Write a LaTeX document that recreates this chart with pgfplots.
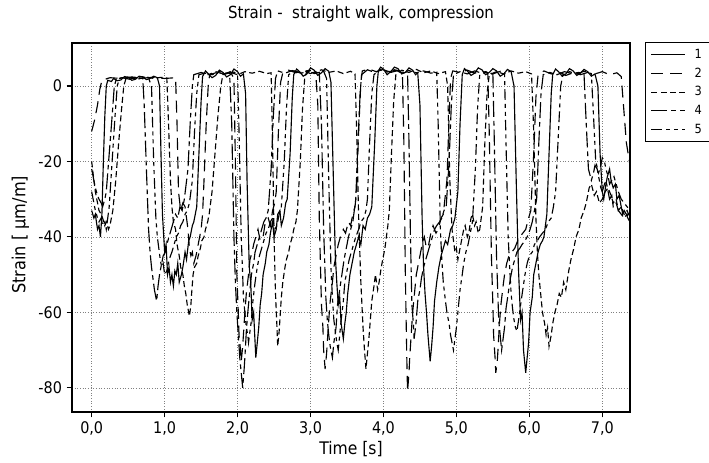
\documentclass[border=0pt]{standalone}
\usepackage{fontspec}
\setmainfont{DejaVu Sans Condensed}
\usepackage{pgfplots}
\pgfplotsset{compat=1.18}
\usetikzlibrary{calc}
\begin{document}
\begin{tikzpicture}
\begin{axis}[
  name=ax,
  at={(0,0)}, anchor=south west,
  scale only axis, width=418.5pt, height=276.75pt,
  xmin=-0.27, xmax=7.38, ymin=-86.4, ymax=11.4,
  xtick={0,1,2,3,4,5,6,7}, ytick={-80,-60,-40,-20,0},
  xtick pos=left, ytick pos=left, tick align=outside,
  major tick length=4pt,
  every tick/.style={black, line width=0.8pt},
  axis line style={line width=1.1pt},
  grid=major,
  major grid style={gray, line width=0.5pt, dash pattern=on 0.6pt off 1.4pt},
  /pgf/number format/assume math mode=true,
  xticklabel style={/pgf/number format/.cd, fixed, precision=1, fixed zerofill, use comma},
  yticklabel style={/pgf/number format/.cd, fixed, precision=0},
  tick label style={font=\fontsize{12}{14}\selectfont},
  title={Strain -\ \ straight walk, compression},
  title style={at={(axis description cs:0.518,1.046)}, anchor=base, font=\fontsize{12.5}{14}\selectfont},
  xlabel={Time [s]},
  xlabel style={at={(axis description cs:0.5,-0.1156)}, anchor=base, font=\fontsize{13}{15}\selectfont},
  ylabel={Strain [ µm/m]},
  ylabel style={at={(axis description cs:-0.0836,0.48)}, anchor=base, font=\fontsize{13.5}{15}\selectfont},
  legend style={at={(axis description cs:1.027,1.0027)}, anchor=north west,
    draw=black, line width=0.8pt, font=\fontsize{9.5}{11}\selectfont,
    inner xsep=4pt, inner ysep=3pt, row sep=1.5pt,
    /tikz/every odd column/.append style={column sep=5pt}},
  legend cell align=left,
  legend image code/.code={\draw[#1, line width=0.8pt] (0pt,0pt) -- (25pt,0pt);},
  every axis plot/.append style={black, line width=0.85pt},
]
% Series 1 (solid)
\addplot[solid] coordinates {
(0.00,-33) (0.03,-35) (0.05,-34) (0.08,-38) (0.10,-37) (0.12,-40) (0.14,-34) (0.16,-20) (0.18,-8) (0.20,0) (0.22,1.5) (0.27,1.2) (0.30,2.0) (0.35,1.4) (0.40,1.6) (0.45,2.5) (0.50,2.3) (0.55,1.5) (0.60,1.8) (0.65,2.6) (0.70,2.4) (0.75,1.7) (0.80,2.0) (0.85,2.6) (0.90,2.2) (0.93,0) (0.95,-18) (0.97,-34) (1.00,-44) (1.02,-42) (1.04,-50) (1.06,-48) (1.08,-52) (1.10,-50) (1.12,-53) (1.14,-49) (1.16,-50) (1.18,-47) (1.20,-52) (1.23,-50) (1.25,-48) (1.28,-44) (1.30,-46) (1.33,-41) (1.35,-40) (1.38,-37) (1.40,-36) (1.42,-34) (1.44,-32) (1.47,-18) (1.50,-4) (1.52,2.5) (1.56,4) (1.60,3.2) (1.65,2.2) (1.70,2.8) (1.75,4.2) (1.80,3.6) (1.85,2.4) (1.90,3.0) (1.95,4.5) (2.00,3.8) (2.04,2.6) (2.08,3.2) (2.11,-2) (2.13,-25) (2.16,-48) (2.18,-52) (2.20,-62) (2.22,-60) (2.25,-72) (2.27,-68) (2.29,-64) (2.31,-58) (2.33,-55) (2.35,-50) (2.38,-47) (2.40,-44) (2.43,-42) (2.45,-39) (2.48,-36) (2.50,-40) (2.53,-38) (2.55,-34) (2.58,-33) (2.60,-37) (2.63,-35) (2.66,-31) (2.68,-30) (2.72,-18) (2.75,-3) (2.77,3) (2.81,4.5) (2.85,3.8) (2.90,2.6) (2.95,3.2) (3.00,4.8) (3.05,4.2) (3.10,2.8) (3.15,3.5) (3.20,4.6) (3.25,3.9) (3.28,1) (3.31,-22) (3.34,-45) (3.36,-52) (3.38,-58) (3.40,-56) (3.42,-63) (3.45,-67) (3.47,-63) (3.49,-60) (3.51,-55) (3.54,-50) (3.57,-47) (3.60,-44) (3.63,-42) (3.66,-40) (3.69,-42) (3.72,-37) (3.75,-38) (3.78,-35) (3.81,-34) (3.84,-32) (3.88,-15) (3.91,0) (3.93,4) (3.96,5) (4.00,4.5) (4.05,3.0) (4.10,3.8) (4.15,5.0) (4.20,4.6) (4.25,3.2) (4.30,3.6) (4.35,4.8) (4.40,4.2) (4.44,3.0) (4.47,3.5) (4.50,-5) (4.53,-35) (4.55,-48) (4.57,-55) (4.59,-60) (4.61,-66) (4.64,-73) (4.66,-69) (4.68,-64) (4.70,-57) (4.73,-52) (4.76,-48) (4.79,-45) (4.82,-43) (4.85,-41) (4.88,-42) (4.92,-38) (4.95,-37) (4.98,-35) (5.02,-28) (5.05,-10) (5.08,3) (5.11,4.6) (5.15,4) (5.20,2.8) (5.25,3.4) (5.30,4.8) (5.35,4.3) (5.40,3.0) (5.45,3.6) (5.50,4.6) (5.55,4.0) (5.60,2.6) (5.65,3.2) (5.70,4.4) (5.75,3.8) (5.79,0) (5.82,-25) (5.85,-48) (5.88,-62) (5.90,-60) (5.92,-70) (5.95,-76) (5.97,-72) (5.99,-68) (6.01,-60) (6.04,-56) (6.06,-50) (6.09,-47) (6.12,-44) (6.15,-42) (6.18,-41) (6.20,-40) (6.22,-37) (6.24,-34) (6.27,-18) (6.30,-2) (6.32,3) (6.36,4.5) (6.40,3.8) (6.45,2.6) (6.50,3.2) (6.55,4.6) (6.60,4.0) (6.65,2.8) (6.70,3.4) (6.75,4.4) (6.80,3.8) (6.85,2.6) (6.90,3.2) (6.94,0) (6.97,-18) (7.00,-28) (7.02,-30) (7.05,-26) (7.07,-24) (7.10,-22) (7.12,-25) (7.15,-27) (7.18,-26) (7.20,-30) (7.23,-29) (7.25,-31) (7.28,-34) (7.30,-33) (7.33,-34) (7.35,-35) (7.38,-36)
};
\addlegendentry{1}
% Series 2 (long dash)
\addplot[dash pattern=on 9pt off 5pt] coordinates {
(0.00,-12) (0.04,-9) (0.08,-5) (0.11,-1) (0.14,1.5) (0.25,2.2) (0.40,2.0) (0.55,2.4) (0.70,2.1) (0.85,2.3) (1.00,2.0) (1.15,2.2) (1.17,-10) (1.19,-28) (1.22,-33) (1.25,-31) (1.28,-32) (1.30,-35) (1.32,-38) (1.34,-43) (1.36,-45) (1.38,-44) (1.40,-47) (1.43,-45) (1.45,-43) (1.48,-40) (1.50,-38) (1.52,-34) (1.54,-25) (1.57,-10) (1.60,1) (1.62,3) (1.70,3.5) (1.80,3.0) (1.90,3.8) (1.95,2) (1.97,-20) (1.99,-50) (2.01,-60) (2.02,-66) (2.04,-70) (2.05,-73) (2.07,-69) (2.08,-66) (2.10,-60) (2.12,-55) (2.15,-50) (2.17,-46) (2.20,-44) (2.22,-42) (2.25,-40) (2.28,-38) (2.31,-41) (2.35,-40) (2.38,-36) (2.42,-35) (2.45,-37) (2.48,-33) (2.51,-31) (2.53,-28) (2.56,-12) (2.59,1) (2.62,3.5) (2.70,4.2) (2.80,3.5) (2.90,4.0) (3.00,3.3) (3.07,3.8) (3.10,-5) (3.12,-35) (3.15,-58) (3.17,-64) (3.18,-70) (3.20,-75) (3.22,-71) (3.23,-68) (3.25,-62) (3.27,-57) (3.30,-52) (3.32,-48) (3.35,-45) (3.38,-42) (3.41,-40) (3.45,-38) (3.48,-39) (3.52,-36) (3.55,-37) (3.58,-34) (3.61,-32) (3.63,-28) (3.66,-12) (3.69,1) (3.71,4) (3.80,4.5) (3.90,3.8) (4.00,4.4) (4.10,3.6) (4.20,4.1) (4.26,3.5) (4.28,-15) (4.30,-50) (4.32,-72) (4.33,-81) (4.35,-76) (4.36,-72) (4.38,-66) (4.40,-60) (4.43,-54) (4.45,-50) (4.48,-47) (4.50,-45) (4.53,-42) (4.56,-40) (4.59,-43) (4.62,-42) (4.65,-39) (4.68,-37) (4.72,-39) (4.75,-38) (4.79,-35) (4.82,-34) (4.87,-25) (4.90,-8) (4.92,2) (4.95,4) (5.05,3.6) (5.15,4.2) (5.25,3.4) (5.35,3.9) (5.43,3.5) (5.45,-12) (5.48,-45) (5.50,-58) (5.51,-66) (5.53,-72) (5.54,-76) (5.56,-73) (5.57,-70) (5.59,-63) (5.61,-58) (5.64,-53) (5.66,-50) (5.69,-47) (5.72,-45) (5.76,-44) (5.80,-43) (5.84,-41) (5.87,-40) (5.91,-39) (5.95,-38) (5.99,-35) (6.02,-33) (6.06,-18) (6.09,-3) (6.12,3) (6.20,4.0) (6.30,3.2) (6.40,3.8) (6.50,2.8) (6.60,3.5) (6.70,3.0) (6.80,3.6) (6.90,3.2) (7.00,3.8) (7.10,3.0) (7.20,3.5) (7.26,2.5) (7.29,-5) (7.33,-15) (7.38,-21)
};
\addlegendentry{2}
% Series 3 (short dash)
\addplot[dash pattern=on 4.5pt off 2.5pt] coordinates {
(0.00,-20) (0.03,-25) (0.05,-28) (0.08,-31) (0.10,-33) (0.13,-34) (0.15,-35) (0.18,-37) (0.20,-36) (0.23,-38) (0.25,-37) (0.29,-33) (0.33,-25) (0.37,-15) (0.41,-6) (0.44,0) (0.47,2) (0.55,2.3) (0.65,1.9) (0.75,2.4) (0.85,2.0) (0.95,2.3) (1.03,2.1) (1.05,-8) (1.08,-25) (1.10,-32) (1.12,-36) (1.15,-38) (1.17,-42) (1.20,-45) (1.22,-48) (1.25,-50) (1.27,-53) (1.29,-55) (1.31,-58) (1.34,-61) (1.36,-58) (1.37,-55) (1.39,-50) (1.41,-48) (1.44,-47) (1.46,-45) (1.49,-43) (1.51,-41) (1.54,-40) (1.56,-38) (1.59,-36) (1.61,-34) (1.65,-28) (1.69,-18) (1.73,-8) (1.77,0) (1.80,3) (1.90,3.6) (2.00,3.0) (2.10,3.8) (2.20,3.4) (2.30,3.9) (2.40,3.3) (2.46,3.5) (2.48,-15) (2.50,-40) (2.52,-55) (2.54,-64) (2.55,-69) (2.57,-65) (2.58,-62) (2.60,-56) (2.62,-52) (2.65,-48) (2.67,-46) (2.70,-44) (2.72,-42) (2.75,-40) (2.77,-38) (2.80,-36) (2.82,-33) (2.86,-20) (2.89,-6) (2.92,2) (2.95,4) (3.05,3.4) (3.15,4.3) (3.25,3.6) (3.35,4.0) (3.45,3.3) (3.55,3.9) (3.61,3.2) (3.63,-10) (3.66,-35) (3.69,-52) (3.72,-64) (3.74,-70) (3.76,-75) (3.78,-71) (3.80,-67) (3.82,-62) (3.84,-57) (3.87,-53) (3.89,-50) (3.92,-54) (3.94,-52) (3.97,-48) (3.99,-46) (4.02,-43) (4.04,-40) (4.06,-37) (4.08,-33) (4.11,-18) (4.14,-4) (4.17,3) (4.25,4.2) (4.35,3.6) (4.45,4.4) (4.55,3.5) (4.65,4.0) (4.75,3.3) (4.85,3.8) (4.88,0) (4.91,-25) (4.94,-38) (4.96,-41) (4.98,-44) (5.00,-43) (5.02,-46) (5.05,-43) (5.07,-41) (5.10,-38) (5.12,-37) (5.15,-40) (5.17,-39) (5.20,-35) (5.22,-34) (5.25,-37) (5.27,-36) (5.30,-39) (5.32,-38) (5.34,-35) (5.36,-32) (5.39,-15) (5.42,-2) (5.45,3) (5.55,3.8) (5.65,3.2) (5.75,4.0) (5.85,3.4) (5.95,3.8) (6.03,3.2) (6.06,-12) (6.09,-35) (6.11,-44) (6.13,-50) (6.16,-56) (6.18,-60) (6.21,-63) (6.23,-66) (6.25,-64) (6.27,-69) (6.30,-66) (6.32,-63) (6.35,-60) (6.38,-58) (6.41,-55) (6.44,-56) (6.47,-52) (6.50,-54) (6.54,-49) (6.57,-46) (6.61,-43) (6.64,-40) (6.68,-38) (6.71,-35) (6.75,-33) (6.78,-31) (6.82,-27) (6.85,-26) (6.89,-29) (6.92,-28) (6.96,-31) (7.00,-30) (7.04,-28) (7.08,-27) (7.12,-29) (7.15,-31) (7.19,-30) (7.22,-33) (7.26,-32) (7.30,-34) (7.34,-33) (7.38,-35)
};
\addlegendentry{3}
% Series 4 (long dash - short dash)
\addplot[dash pattern=on 12pt off 3pt on 3.5pt off 3pt] coordinates {
(0.00,-22) (0.03,-25) (0.05,-27) (0.08,-29) (0.10,-30) (0.13,-31) (0.15,-32) (0.18,-30) (0.20,-28) (0.24,-18) (0.28,-8) (0.31,0) (0.34,2) (0.42,2.2) (0.52,1.8) (0.62,2.3) (0.70,2.0) (0.72,-5) (0.75,-22) (0.78,-38) (0.80,-44) (0.82,-48) (0.84,-51) (0.86,-54) (0.89,-57) (0.91,-53) (0.93,-50) (0.96,-47) (0.98,-45) (1.01,-44) (1.03,-42) (1.06,-40) (1.09,-38) (1.12,-36) (1.15,-34) (1.18,-35) (1.21,-32) (1.24,-33) (1.27,-30) (1.32,-22) (1.35,-10) (1.38,0) (1.40,3) (1.50,3.6) (1.60,3.0) (1.70,3.8) (1.80,3.2) (1.89,3.6) (1.92,-10) (1.95,-40) (1.97,-52) (1.99,-60) (2.01,-66) (2.03,-72) (2.05,-76) (2.07,-80) (2.09,-75) (2.10,-72) (2.12,-65) (2.14,-60) (2.17,-54) (2.19,-50) (2.22,-47) (2.24,-44) (2.27,-42) (2.30,-40) (2.33,-38) (2.36,-36) (2.39,-35) (2.42,-33) (2.46,-22) (2.49,-8) (2.52,2) (2.55,4) (2.65,3.4) (2.75,4.1) (2.85,3.5) (2.95,4.0) (3.05,3.3) (3.12,3.6) (3.15,-10) (3.18,-38) (3.21,-56) (3.23,-62) (3.25,-66) (3.27,-69) (3.30,-72) (3.32,-68) (3.35,-64) (3.37,-58) (3.40,-54) (3.43,-50) (3.46,-46) (3.49,-43) (3.52,-40) (3.55,-38) (3.58,-36) (3.60,-33) (3.62,-30) (3.65,-15) (3.68,-2) (3.70,3) (3.78,4.3) (3.88,3.6) (3.98,4.4) (4.08,3.8) (4.18,4.2) (4.28,3.5) (4.33,3.8) (4.35,-15) (4.37,-40) (4.39,-58) (4.41,-63) (4.42,-67) (4.44,-64) (4.45,-62) (4.47,-57) (4.50,-54) (4.52,-51) (4.55,-48) (4.58,-46) (4.61,-44) (4.64,-42) (4.67,-40) (4.70,-38) (4.73,-37) (4.77,-36) (4.80,-35) (4.83,-33) (4.86,-32) (4.90,-20) (4.93,-5) (4.96,3) (5.05,3.8) (5.15,3.2) (5.25,4.0) (5.35,3.4) (5.45,3.7) (5.50,3.2) (5.52,-15) (5.55,-45) (5.58,-62) (5.60,-66) (5.62,-70) (5.64,-67) (5.66,-64) (5.68,-59) (5.71,-55) (5.74,-51) (5.77,-48) (5.80,-46) (5.83,-44) (5.87,-43) (5.90,-42) (5.94,-41) (5.97,-40) (6.01,-38) (6.04,-36) (6.07,-33) (6.10,-30) (6.13,-15) (6.16,-2) (6.19,3) (6.28,3.6) (6.38,3.0) (6.48,3.8) (6.58,3.3) (6.68,3.6) (6.75,3.0) (6.78,-10) (6.81,-22) (6.85,-25) (6.88,-23) (6.90,-21) (6.93,-22) (6.95,-24) (6.98,-27) (7.00,-28) (7.03,-26) (7.05,-25) (7.08,-28) (7.10,-30) (7.13,-29) (7.15,-32) (7.19,-31) (7.22,-33) (7.26,-34) (7.30,-35) (7.34,-34) (7.38,-36)
};
\addlegendentry{4}
% Series 5 (dash - dot - dot)
\addplot[dash pattern=on 8pt off 3pt on 3pt off 3pt on 3pt off 3pt] coordinates {
(0.00,-28) (0.03,-31) (0.05,-33) (0.08,-35) (0.10,-36) (0.13,-35) (0.15,-37) (0.18,-36) (0.20,-38) (0.24,-32) (0.28,-20) (0.32,-8) (0.35,0) (0.38,2) (0.48,2.4) (0.58,2.0) (0.68,2.5) (0.78,2.1) (0.82,0) (0.85,-20) (0.88,-35) (0.90,-40) (0.92,-43) (0.94,-46) (0.96,-48) (0.98,-47) (1.00,-50) (1.03,-49) (1.05,-47) (1.08,-45) (1.10,-44) (1.13,-42) (1.16,-40) (1.19,-39) (1.22,-37) (1.25,-36) (1.28,-34) (1.31,-33) (1.34,-31) (1.38,-25) (1.41,-12) (1.44,-2) (1.47,3) (1.55,3.4) (1.65,3.0) (1.75,3.8) (1.85,3.3) (1.95,3.7) (2.00,3.0) (2.02,-12) (2.05,-40) (2.07,-50) (2.08,-56) (2.10,-60) (2.12,-64) (2.14,-66) (2.15,-68) (2.17,-65) (2.19,-62) (2.21,-57) (2.24,-52) (2.27,-48) (2.30,-45) (2.33,-43) (2.36,-41) (2.39,-39) (2.42,-38) (2.45,-36) (2.48,-35) (2.51,-38) (2.54,-37) (2.57,-34) (2.60,-32) (2.64,-20) (2.67,-6) (2.70,3) (2.78,4.0) (2.88,3.4) (2.98,4.2) (3.08,3.5) (3.18,3.9) (3.22,2) (3.25,-25) (3.28,-48) (3.30,-56) (3.32,-62) (3.34,-65) (3.36,-68) (3.38,-70) (3.40,-66) (3.42,-62) (3.45,-57) (3.47,-52) (3.50,-49) (3.53,-46) (3.56,-44) (3.59,-42) (3.62,-40) (3.66,-38) (3.69,-36) (3.73,-35) (3.76,-33) (3.78,-30) (3.81,-15) (3.84,-2) (3.87,3) (3.95,4.4) (4.05,3.7) (4.15,4.3) (4.25,3.6) (4.35,4.1) (4.45,3.5) (4.55,4.0) (4.65,3.4) (4.73,3.7) (4.75,-10) (4.78,-38) (4.80,-46) (4.82,-52) (4.85,-57) (4.87,-60) (4.90,-63) (4.92,-66) (4.94,-68) (4.96,-70) (4.98,-67) (5.00,-64) (5.03,-58) (5.05,-54) (5.08,-50) (5.10,-47) (5.13,-44) (5.16,-42) (5.19,-39) (5.22,-36) (5.26,-22) (5.29,-6) (5.32,3) (5.40,3.8) (5.50,3.2) (5.60,3.9) (5.66,3.3) (5.68,-15) (5.71,-40) (5.73,-48) (5.75,-55) (5.77,-59) (5.79,-62) (5.81,-64) (5.83,-65) (5.86,-61) (5.88,-58) (5.91,-54) (5.94,-50) (5.97,-47) (6.00,-45) (6.04,-44) (6.07,-42) (6.11,-41) (6.14,-40) (6.18,-39) (6.22,-38) (6.26,-36) (6.30,-35) (6.33,-32) (6.36,-28) (6.40,-12) (6.43,0) (6.46,3) (6.55,3.8) (6.65,3.2) (6.75,3.9) (6.85,3.3) (6.88,-8) (6.91,-20) (6.95,-23) (6.98,-21) (7.00,-19) (7.03,-20) (7.05,-22) (7.08,-24) (7.10,-26) (7.13,-25) (7.16,-24) (7.19,-26) (7.22,-28) (7.26,-30) (7.30,-31) (7.34,-32) (7.38,-33)
};
\addlegendentry{5}
\end{axis}
\pgfresetboundingbox
\path[use as bounding box] ($(ax.south west)+(-54pt,-38.25pt)$) rectangle ($(ax.south west)+(477.75pt,309pt)$);
\end{tikzpicture}
\end{document}
